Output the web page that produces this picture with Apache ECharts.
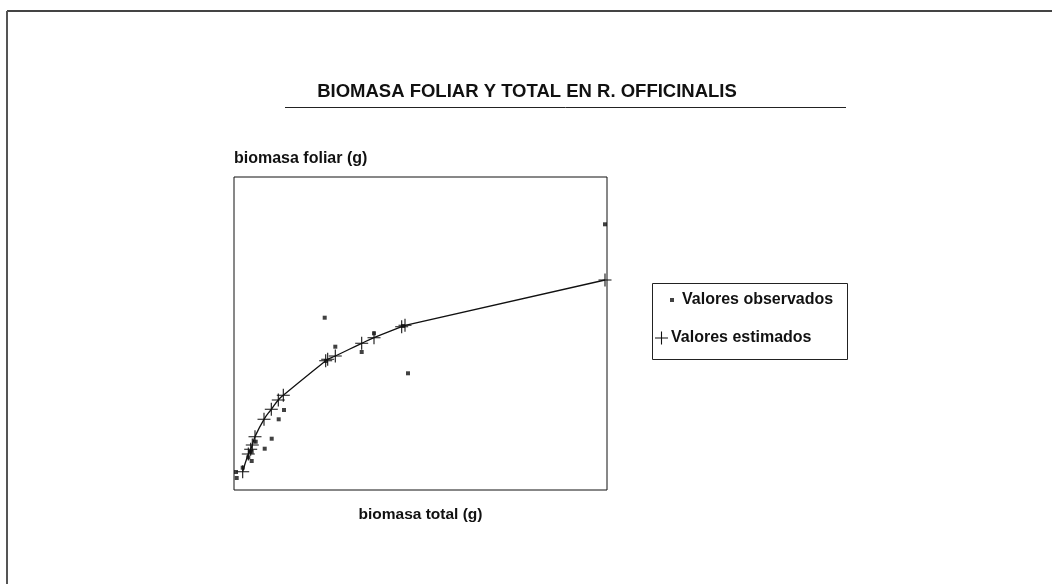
<!DOCTYPE html>
<html><head><meta charset="utf-8">
<script src="https://cdn.jsdelivr.net/npm/echarts@6/dist/echarts.min.js"></script>
<style>html,body{margin:0;padding:0;background:#fff}#c{width:1052px;height:584px}</style>
</head><body><div id="c"></div>
<script>
// Observed values: [biomasa total, biomasa foliar] (arbitrary units, no scale shown)
const observedX = [371, 90.7, 101.3, 140, 127.7, 174, 92, 169, 50, 44.7, 37.7, 30.7, 21.7, 17.7, 16, 17.7, 14.3, 8.7, 2, 2.7];
const observedY = [265.7, 172.3, 143.3, 156.7, 138, 116.7, 129, 164, 80, 70.7, 51.3, 41.3, 48.3, 38.3, 38.3, 29, 32.7, 22.3, 18, 12];
// Estimated (fitted) values
const estimatedX = [8.7, 14.3, 16.7, 18.3, 21, 30, 37.3, 44.3, 49.3, 91.7, 93.7, 101.3, 127.7, 140, 167.7, 171, 371];
const estimatedY = [18.3, 36, 40.7, 45, 53.3, 70.7, 80.7, 90, 94.7, 129.3, 130.7, 134, 146.7, 152.3, 163.3, 164.7, 210];
const titleText = 'BIOMASA FOLIAR Y TOTAL EN R. OFFICINALIS';
const xName = 'biomasa total (g)';
const yName = 'biomasa foliar (g)';
const seriesNames = ['Valores observados', 'Valores estimados'];

const zip = (a, b) => a.map((v, i) => [v, b[i]]);
const plusPath = 'path://M0,5.5H12V6.5H0Z M5.5,0H6.5V12H5.5Z';
const FONT = 'Liberation Sans, Arial, Helvetica, sans-serif';

const chart = echarts.init(document.getElementById('c'), null, {renderer: 'canvas'});
chart.setOption({
  animation: false,
  backgroundColor: '#fff',
  title: {
    text: titleText, left: 522, top: 77, textAlign: 'center',
    textStyle: {fontFamily: FONT, fontSize: 18.5, fontWeight: 'bold', color: '#111'}
  },
  grid: {left: 234, top: 177, width: 373, height: 313, show: true, borderColor: '#111', borderWidth: 1, backgroundColor: 'transparent'},
  xAxis: {
    type: 'value', min: 0, max: 373,
    name: xName, nameLocation: 'middle', nameGap: 17,
    nameTextStyle: {fontFamily: FONT, fontSize: 15.5, fontWeight: 'bold', color: '#111'},
    axisLine: {show: false}, axisTick: {show: false}, axisLabel: {show: false}, splitLine: {show: false}
  },
  yAxis: {
    type: 'value', min: 0, max: 313,
    name: yName, nameLocation: 'end', nameGap: 10,
    nameTextStyle: {fontFamily: FONT, fontSize: 16, fontWeight: 'bold', color: '#111', align: 'left'},
    axisLine: {show: false}, axisTick: {show: false}, axisLabel: {show: false}, splitLine: {show: false}
  },
  legend: [{
    data: [seriesNames[0]], orient: 'vertical', left: 665, top: 287,
    icon: 'rect', itemWidth: 4, itemHeight: 4, itemGap: 6,
    textStyle: {fontFamily: FONT, fontSize: 16, fontWeight: 'bold', color: '#111', padding: [0, 0, 0, 3]},
    selectedMode: false
  }, {
    data: [seriesNames[1]], orient: 'vertical', left: 650, top: 325,
    icon: plusPath, itemWidth: 13, itemHeight: 13, itemGap: 6,
    textStyle: {fontFamily: FONT, fontSize: 16, fontWeight: 'bold', color: '#111', padding: [0, 0, 0, -2]},
    selectedMode: false
  }],
  graphic: [
    {type: 'line', shape: {x1: 285, y1: 107.5, x2: 846, y2: 107.5}, style: {stroke: '#222', lineWidth: 1}, silent: true},
    {type: 'rect', shape: {x: 652.5, y: 283.5, width: 195, height: 76}, style: {fill: 'none', stroke: '#222', lineWidth: 1}, silent: true},
    {type: 'line', shape: {x1: 7, y1: 11, x2: 1052, y2: 11}, style: {stroke: '#444', lineWidth: 2}, silent: true},
    {type: 'line', shape: {x1: 7, y1: 11, x2: 7, y2: 584}, style: {stroke: '#555', lineWidth: 2}, silent: true}
  ],
  series: [{
    name: seriesNames[0], type: 'scatter', data: zip(observedX, observedY),
    symbol: 'rect', symbolSize: 4, itemStyle: {color: '#111'}, z: 3
  }, {
    name: seriesNames[1], type: 'line', data: zip(estimatedX, estimatedY),
    symbol: plusPath, symbolSize: 13, showSymbol: true, smooth: 0.5,
    itemStyle: {color: '#111'}, lineStyle: {color: '#111', width: 1.3}, z: 2
  }]
});
</script></body></html>
